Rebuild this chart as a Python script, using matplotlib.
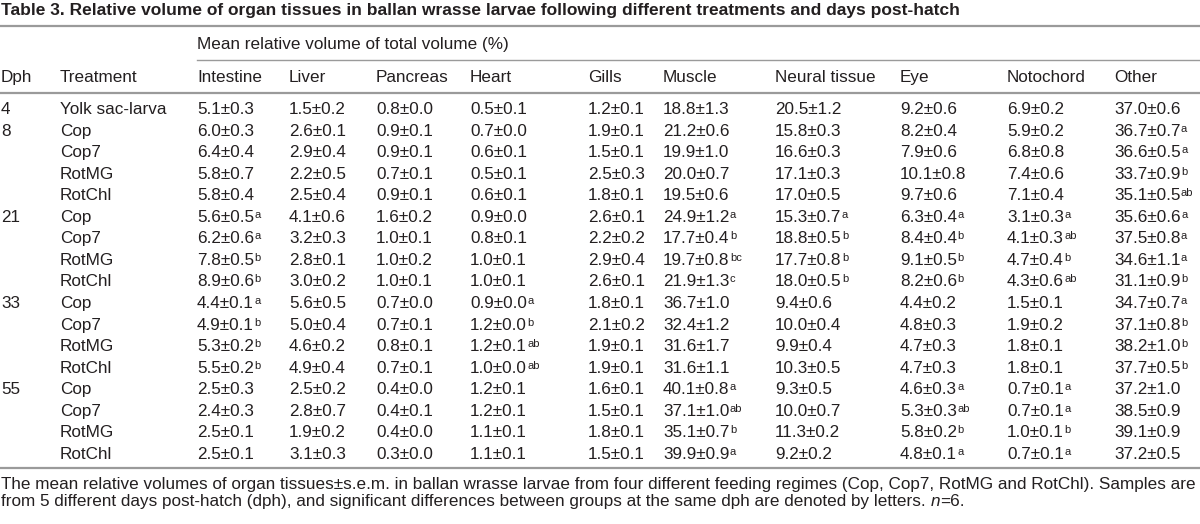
import matplotlib
matplotlib.use("Agg")
import matplotlib.pyplot as plt

plt.rcParams['font.family'] = ['Liberation Sans', 'DejaVu Sans']

title = "Table 3. Relative volume of organ tissues in ballan wrasse larvae following different treatments and days post-hatch"
group_header = "Mean relative volume of total volume (%)"
columns = ["Intestine", "Liver", "Pancreas", "Heart", "Gills", "Muscle",
           "Neural tissue", "Eye", "Notochord", "Other"]

dph = ["4", "8", "", "", "", "21", "", "", "", "33", "", "", "", "55", "", "", ""]
treatment = ["Yolk sac-larva", "Cop", "Cop7", "RotMG", "RotChl",
             "Cop", "Cop7", "RotMG", "RotChl",
             "Cop", "Cop7", "RotMG", "RotChl",
             "Cop", "Cop7", "RotMG", "RotChl"]

intestine = [5.1, 6.0, 6.4, 5.8, 5.8, 5.6, 6.2, 7.8, 8.9, 4.4, 4.9, 5.3, 5.5, 2.5, 2.4, 2.5, 2.5]
intestine_se = [0.3, 0.3, 0.4, 0.7, 0.4, 0.5, 0.6, 0.5, 0.6, 0.1, 0.1, 0.2, 0.2, 0.3, 0.3, 0.1, 0.1]
intestine_sig = ["", "", "", "", "", "a", "a", "b", "b", "a", "b", "b", "b", "", "", "", ""]

liver = [1.5, 2.6, 2.9, 2.2, 2.5, 4.1, 3.2, 2.8, 3.0, 5.6, 5.0, 4.6, 4.9, 2.5, 2.8, 1.9, 3.1]
liver_se = [0.2, 0.1, 0.4, 0.5, 0.4, 0.6, 0.3, 0.1, 0.2, 0.5, 0.4, 0.2, 0.4, 0.2, 0.7, 0.2, 0.3]
liver_sig = [""] * 17

pancreas = [0.8, 0.9, 0.9, 0.7, 0.9, 1.6, 1.0, 1.0, 1.0, 0.7, 0.7, 0.8, 0.7, 0.4, 0.4, 0.4, 0.3]
pancreas_se = [0.0, 0.1, 0.1, 0.1, 0.1, 0.2, 0.1, 0.2, 0.1, 0.0, 0.1, 0.1, 0.1, 0.0, 0.1, 0.0, 0.0]
pancreas_sig = [""] * 17

heart = [0.5, 0.7, 0.6, 0.5, 0.6, 0.9, 0.8, 1.0, 1.0, 0.9, 1.2, 1.2, 1.0, 1.2, 1.2, 1.1, 1.1]
heart_se = [0.1, 0.0, 0.1, 0.1, 0.1, 0.0, 0.1, 0.1, 0.1, 0.0, 0.0, 0.1, 0.0, 0.1, 0.1, 0.1, 0.1]
heart_sig = ["", "", "", "", "", "", "", "", "", "a", "b", "ab", "ab", "", "", "", ""]

gills = [1.2, 1.9, 1.5, 2.5, 1.8, 2.6, 2.2, 2.9, 2.6, 1.8, 2.1, 1.9, 1.9, 1.6, 1.5, 1.8, 1.5]
gills_se = [0.1, 0.1, 0.1, 0.3, 0.1, 0.1, 0.2, 0.4, 0.1, 0.1, 0.2, 0.1, 0.1, 0.1, 0.1, 0.1, 0.1]
gills_sig = [""] * 17

muscle = [18.8, 21.2, 19.9, 20.0, 19.5, 24.9, 17.7, 19.7, 21.9, 36.7, 32.4, 31.6, 31.6, 40.1, 37.1, 35.1, 39.9]
muscle_se = [1.3, 0.6, 1.0, 0.7, 0.6, 1.2, 0.4, 0.8, 1.3, 1.0, 1.2, 1.7, 1.1, 0.8, 1.0, 0.7, 0.9]
muscle_sig = ["", "", "", "", "", "a", "b", "bc", "c", "", "", "", "", "a", "ab", "b", "a"]

neural = [20.5, 15.8, 16.6, 17.1, 17.0, 15.3, 18.8, 17.7, 18.0, 9.4, 10.0, 9.9, 10.3, 9.3, 10.0, 11.3, 9.2]
neural_se = [1.2, 0.3, 0.3, 0.3, 0.5, 0.7, 0.5, 0.8, 0.5, 0.6, 0.4, 0.4, 0.5, 0.5, 0.7, 0.2, 0.2]
neural_sig = ["", "", "", "", "", "a", "b", "b", "b", "", "", "", "", "", "", "", ""]

eye = [9.2, 8.2, 7.9, 10.1, 9.7, 6.3, 8.4, 9.1, 8.2, 4.4, 4.8, 4.7, 4.7, 4.6, 5.3, 5.8, 4.8]
eye_se = [0.6, 0.4, 0.6, 0.8, 0.6, 0.4, 0.4, 0.5, 0.6, 0.2, 0.3, 0.3, 0.3, 0.3, 0.3, 0.2, 0.1]
eye_sig = ["", "", "", "", "", "a", "b", "b", "b", "", "", "", "", "a", "ab", "b", "a"]

notochord = [6.9, 5.9, 6.8, 7.4, 7.1, 3.1, 4.1, 4.7, 4.3, 1.5, 1.9, 1.8, 1.8, 0.7, 0.7, 1.0, 0.7]
notochord_se = [0.2, 0.2, 0.8, 0.6, 0.4, 0.3, 0.3, 0.4, 0.6, 0.1, 0.2, 0.1, 0.1, 0.1, 0.1, 0.1, 0.1]
notochord_sig = ["", "", "", "", "", "a", "ab", "b", "ab", "", "", "", "", "a", "a", "b", "a"]

other = [37.0, 36.7, 36.6, 33.7, 35.1, 35.6, 37.5, 34.6, 31.1, 34.7, 37.1, 38.2, 37.7, 37.2, 38.5, 39.1, 37.2]
other_se = [0.6, 0.7, 0.5, 0.9, 0.5, 0.6, 0.8, 1.1, 0.9, 0.7, 0.8, 1.0, 0.5, 1.0, 0.9, 0.9, 0.5]
other_sig = ["", "a", "a", "b", "ab", "a", "a", "a", "b", "a", "b", "b", "b", "", "", "", ""]

caption1 = ("The mean relative volumes of organ tissues\u00b1s.e.m. in ballan wrasse larvae from four "
            "different feeding regimes (Cop, Cop7, RotMG and RotChl). Samples are")
caption2 = ("from 5 different days post-hatch (dph), and significant differences between groups "
            "at the same dph are denoted by letters. ")

means = [intestine, liver, pancreas, heart, gills, muscle, neural, eye, notochord, other]
errs = [intestine_se, liver_se, pancreas_se, heart_se, gills_se, muscle_se,
        neural_se, eye_se, notochord_se, other_se]
sigs = [intestine_sig, liver_sig, pancreas_sig, heart_sig, gills_sig, muscle_sig,
        neural_sig, eye_sig, notochord_sig, other_sig]

# layout (pixels); text y values are baselines
col_x = [197, 289, 376, 470, 588, 663, 775, 900, 1007, 1114]
dph_x = 1
treat_x = 60
row0 = 114
row_h = 21.56
fs = 12.3
txt = "#231f20"
rule = "#9a9a9a"

fig = plt.figure(figsize=(12, 5.24), dpi=100)
ax = fig.add_axes([0, 0, 1, 1])
ax.set_xlim(0, 1200)
ax.set_ylim(524, 0)
ax.axis("off")

ax.text(1, 15.5, title, fontsize=12.5, fontweight="bold", color=txt, va="baseline")
ax.plot([0, 1200], [26, 26], color=rule, lw=1.6)
ax.text(col_x[0], 49, group_header, fontsize=fs, color=txt, va="baseline")
ax.plot([col_x[0], 1200], [60, 60], color=rule, lw=1.0)
ax.text(dph_x, 82, "Dph", fontsize=fs, color=txt, va="baseline")
ax.text(treat_x, 82, "Treatment", fontsize=fs, color=txt, va="baseline")
for x, name in zip(col_x, columns):
    ax.text(x, 82, name, fontsize=fs, color=txt, va="baseline")
ax.plot([0, 1200], [93, 93], color=rule, lw=1.6)

for i in range(len(treatment)):
    y = row0 + i * row_h
    ax.text(dph_x, y, dph[i], fontsize=fs, color=txt, va="baseline")
    ax.text(treat_x, y, treatment[i], fontsize=fs, color=txt, va="baseline")
    for j, x in enumerate(col_x):
        t = ax.text(x, y, f"{means[j][i]:.1f}\u00b1{errs[j][i]:.1f}",
                    fontsize=fs, color=txt, va="baseline")
        if sigs[j][i]:
            ax.annotate(sigs[j][i], xy=(1, 1.0), xycoords=t, xytext=(0.3, 0),
                        textcoords="offset points", fontsize=8,
                        color=txt, ha="left", va="top")

ax.plot([0, 1200], [468, 468], color=rule, lw=1.6)
ax.text(1, 489, caption1, fontsize=fs, color=txt, va="baseline")
c2 = ax.text(1, 506, caption2, fontsize=fs, color=txt, va="baseline")
c3 = ax.annotate("n", xy=(1, 0), xycoords=c2, fontsize=fs, color=txt,
                 style="italic", ha="left", va="bottom")
ax.annotate("=6.", xy=(1, 0), xycoords=c3, fontsize=fs, color=txt,
            ha="left", va="bottom")

fig.savefig("out.png", dpi=100)
